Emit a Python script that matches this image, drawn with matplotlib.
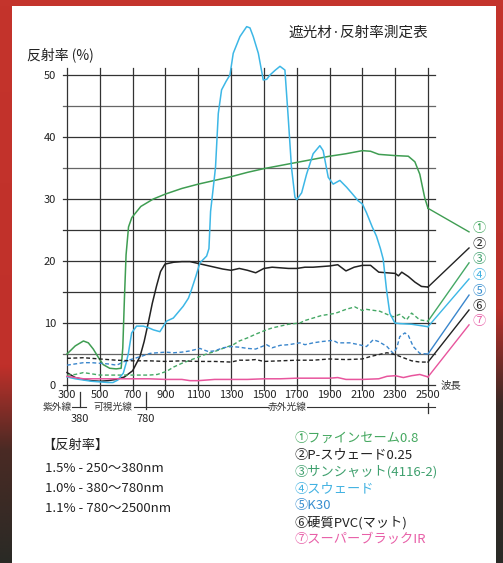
import matplotlib
matplotlib.use('Agg')
import matplotlib.pyplot as plt
from matplotlib.colors import LinearSegmentedColormap
import numpy as np

plt.rcParams['font.family'] = ['Noto Sans CJK JP', 'DejaVu Sans']

W, H = 503, 563

# ① ファインセーム0.8
x1 = [300, 350, 400, 430, 460, 490, 520, 560, 600, 630, 640, 650, 660, 675, 695, 750, 826, 900, 1000, 1100,
      1200, 1300, 1400, 1500, 1600, 1700, 1800, 1900, 2000, 2100, 2150, 2200, 2300, 2380, 2420, 2450, 2480, 2500]
y1 = [5.0, 6.3, 7.1, 6.8, 5.8, 4.5, 3.3, 2.7, 2.6, 2.7, 6.0, 14.0, 21.0, 25.5, 27.0, 28.8, 30.0, 30.8, 31.7, 32.4,
      33.0, 33.6, 34.3, 34.9, 35.4, 35.9, 36.4, 36.9, 37.3, 37.8, 37.7, 37.2, 37.0, 36.9, 36.0, 34.0, 30.2, 28.5]
# ② P-スウェード0.25
x2 = [300, 350, 400, 450, 500, 550, 600, 650, 700, 745, 770, 795, 820, 846, 870, 897, 950, 1000, 1050, 1100,
      1150, 1200, 1250, 1300, 1350, 1400, 1450, 1500, 1550, 1600, 1650, 1700, 1750, 1800, 1850, 1900, 1950,
      2000, 2050, 2100, 2150, 2200, 2250, 2300, 2320, 2340, 2380, 2420, 2460, 2500]
y2 = [2.0, 1.2, 0.9, 0.7, 0.6, 0.7, 0.9, 1.3, 2.3, 4.6, 7.0, 10.0, 13.2, 16.0, 18.3, 19.5, 19.8, 19.9, 19.9, 19.6,
      19.3, 19.0, 18.7, 18.5, 18.8, 18.5, 18.1, 18.8, 19.0, 18.9, 18.8, 18.8, 19.0, 19.0, 19.1, 19.2, 19.4,
      18.4, 19.0, 19.3, 19.3, 18.2, 18.1, 18.0, 17.6, 18.2, 17.5, 16.6, 15.9, 15.8]
# ③ サンシャット(4116-2)
x3 = [300, 350, 400, 450, 500, 600, 700, 800, 850, 907, 950, 1000, 1050, 1110, 1150, 1200, 1250, 1313, 1350,
      1400, 1450, 1516, 1550, 1600, 1650, 1719, 1750, 1800, 1850, 1922, 1950, 2000, 2054, 2100, 2125, 2206,
      2250, 2288, 2328, 2369, 2400, 2450, 2500]
y3 = [1.6, 1.7, 2.0, 1.8, 1.6, 1.6, 1.6, 1.6, 1.7, 2.2, 2.9, 3.5, 4.0, 4.6, 5.0, 5.4, 5.9, 6.5, 7.1,
      7.6, 8.2, 8.9, 9.2, 9.5, 9.8, 10.0, 10.4, 10.8, 11.2, 11.5, 11.7, 12.2, 12.6, 12.0, 12.2, 11.9,
      11.4, 11.0, 11.4, 10.5, 11.6, 10.5, 10.3]
# ④ スウェード
x4 = [300, 350, 400, 450, 500, 550, 580, 610, 630, 643, 660, 674, 694, 724, 765, 800, 826, 866, 907, 948,
      1008, 1040, 1059, 1085, 1110, 1151, 1165, 1175, 1190, 1205, 1222, 1242, 1270, 1293, 1313, 1354, 1395,
      1415, 1435, 1466, 1496, 1517, 1537, 1570, 1598, 1628, 1648, 1668, 1689, 1700, 1730, 1760, 1800, 1841,
      1861, 1892, 1922, 1963, 2004, 2040, 2075, 2100, 2125, 2160, 2186, 2210, 2227, 2247, 2267, 2298, 2330,
      2400, 2450, 2500]
y4 = [1.3, 1.0, 0.8, 0.6, 0.5, 0.4, 0.4, 0.8, 1.5, 1.9, 3.5, 5.1, 8.4, 9.5, 9.5, 9.2, 8.9, 8.6, 10.3, 10.8,
      12.7, 14.0, 15.4, 17.5, 19.7, 20.8, 22.0, 28.0, 31.5, 35.1, 43.8, 47.6, 49.0, 50.0, 53.5, 56.2, 57.8,
      57.6, 56.2, 53.5, 49.2, 49.3, 50.0, 50.8, 51.4, 50.8, 43.2, 35.1, 30.3, 29.9, 31.0, 34.0, 37.3, 38.6,
      37.8, 33.5, 32.4, 33.0, 31.9, 30.8, 29.7, 29.2, 27.8, 25.5, 24.0, 22.0, 20.3, 15.4, 11.6, 10.0, 9.9,
      9.8, 9.6, 9.4]
# ⑤ K30
x5 = [300, 350, 400, 450, 500, 550, 603, 650, 700, 750, 806, 850, 900, 950, 1000, 1050, 1110, 1130, 1160, 1200,
      1250, 1300, 1350, 1400, 1450, 1516, 1550, 1600, 1650, 1719, 1750, 1800, 1850, 1922, 1950, 2024, 2080,
      2125, 2166, 2200, 2250, 2288, 2310, 2328, 2359, 2380, 2410, 2450, 2500]
y5 = [3.2, 3.4, 3.6, 3.6, 3.5, 3.4, 3.2, 3.8, 4.2, 4.6, 5.1, 5.2, 5.3, 5.2, 5.3, 5.5, 5.9, 5.7, 5.4, 5.5,
      6.0, 6.2, 6.1, 5.9, 5.8, 6.5, 6.0, 6.4, 6.5, 6.8, 6.5, 6.8, 7.0, 7.2, 6.8, 6.8, 6.5,
      6.2, 7.3, 7.0, 6.2, 5.1, 6.0, 7.8, 8.4, 8.0, 6.2, 5.1, 5.0]
# ⑥ 硬質PVC(マット)
x6 = [300, 400, 500, 600, 700, 800, 900, 1000, 1100, 1200, 1300, 1350, 1400, 1450, 1500, 1600, 1700, 1800,
      1900, 2000, 2100, 2150, 2200, 2250, 2300, 2350, 2400, 2450, 2500]
y6 = [4.3, 4.4, 4.2, 4.0, 3.9, 3.9, 3.8, 3.9, 3.8, 3.8, 3.7, 4.0, 4.0, 4.1, 3.8, 3.9, 4.0, 4.0,
      4.2, 4.1, 4.2, 4.6, 4.9, 5.2, 4.9, 4.4, 3.9, 3.7, 3.7]
# ⑦ スーパーブラックIR
x7 = [300, 350, 400, 500, 600, 700, 800, 900, 1000, 1050, 1100, 1150, 1200, 1300, 1400, 1500, 1600, 1700,
      1800, 1900, 1950, 2000, 2100, 2200, 2250, 2300, 2350, 2400, 2450, 2500]
y7 = [1.4, 1.2, 1.0, 1.0, 1.0, 1.0, 1.0, 0.9, 0.9, 0.7, 0.7, 0.8, 0.9, 0.9, 0.9, 1.0, 1.0, 1.1,
      1.1, 1.1, 1.2, 0.9, 0.9, 1.0, 1.4, 1.5, 1.2, 1.5, 1.7, 1.3]

names = ['①ファインセーム0.8', '②P-スウェード0.25', '③サンシャット(4116-2)', '④スウェード',
         '⑤K30', '⑥硬質PVC(マット)', '⑦スーパーブラックIR']
marks = ['①', '②', '③', '④', '⑤', '⑥', '⑦']
colors = ['#3f9d52', '#222222', '#45a865', '#3db7e6', '#3a86cc', '#222222', '#e8559d']
styles = ['-', '-', '--', '-', '--', '--', '-']
text_colors = ['#45a860', '#222222', '#3fa06e', '#42b2e2', '#3a8fd0', '#222222', '#e860a8']

notes_title = '【反射率】'
notes = ['1.5% - 250〜380nm', '1.0% - 380〜780nm', '1.1% - 780〜2500nm']

series = [(x1, y1), (x2, y2), (x3, y3), (x4, y4), (x5, y5), (x6, y6), (x7, y7)]


def fx(px):
    return px / W


def fy(py):
    return 1 - py / H


fig = plt.figure(figsize=(W / 100, H / 100), dpi=100)
fig.patch.set_facecolor('white')

# red / dark frame on the sides
grad = np.linspace(0, 1, 256).reshape(-1, 1)
cm_left = LinearSegmentedColormap.from_list('l', [(0, '#c4342c'), (0.65, '#c0302a'), (0.8, '#4a2a24'), (1, '#2a2a26')])
cm_right = LinearSegmentedColormap.from_list('r', [(0, '#c4342c'), (0.55, '#b8302a'), (0.72, '#3a2a26'), (1, '#2a2a26')])
axl = fig.add_axes([0, 0, fx(12), 1])
axl.imshow(grad, aspect='auto', cmap=cm_left)
axl.axis('off')
axr = fig.add_axes([fx(496), 0, fx(7), 1])
axr.imshow(grad, aspect='auto', cmap=cm_right)
axr.axis('off')
axt = fig.add_axes([0, fy(6), 1, fy(0) - fy(6)])
axt.set_facecolor('#c4342c')
axt.set_xticks([])
axt.set_yticks([])
for s in axt.spines.values():
    s.set_visible(False)

ax = fig.add_axes([fx(67), fy(385), fx(428) - fx(67), fy(75) - fy(385)])
ax.set_xlim(300, 2500)
ax.set_ylim(0, 50)
ax.patch.set_alpha(0)
for s in ax.spines.values():
    s.set_visible(False)

gc = '#333333'
for yv in range(0, 51, 5):
    ax.plot([276, 2543], [yv, yv], color=gc if yv % 10 == 0 or yv in (15, 25) else '#666666',
            lw=0.9, clip_on=False, zorder=1)
for xv in range(300, 2501, 200):
    ax.plot([xv, xv], [-0.8, 51.2], color=gc, lw=0.9, clip_on=False, zorder=1)

ax.set_xticks(range(300, 2501, 200))
ax.set_xticklabels([str(v) for v in range(300, 2501, 200)], fontsize=8, color='#222222')
ax.set_yticks(range(0, 51, 10))
ax.set_yticklabels([str(v) for v in range(0, 51, 10)], fontsize=8, color='#222222')
ax.tick_params(axis='x', length=0, pad=3.5)
ax.tick_params(axis='y', length=0, pad=8)

# lines to the numbered markers at the right
label_y = [25.2, 22.6, 20.2, 17.6, 15.0, 12.6, 10.2]
for (xs, ys), c, ls, ly, m, tc in zip(series, colors, styles, label_y, marks, text_colors):
    if ls == '--':
        ax.plot(xs, ys, color=c, lw=1.0, dashes=(2.8, 1.8), clip_on=False, zorder=3)
    else:
        ax.plot(xs, ys, color=c, lw=1.1, clip_on=False, zorder=3)
    ax.plot([xs[-1], 2750], [ys[-1], ly - 0.5], color=c, lw=1.0, clip_on=False, zorder=3)
    ax.text(2810, ly, m, color=tc, fontsize=9.5, ha='center', va='center', clip_on=False)

# wavelength band row
ax.plot([380, 380], [-1.1, -3.6], color='#333333', lw=0.9, clip_on=False)
ax.plot([780, 780], [-1.1, -3.9], color='#333333', lw=0.9, clip_on=False)
ax.plot([2500, 2500], [-2.9, -4.5], color='#333333', lw=0.9, clip_on=False)
ax.plot([330, 416], [-3.55, -3.55], color='#333333', lw=0.8, clip_on=False)
ax.plot([708, 1525], [-3.55, -3.55], color='#333333', lw=0.8, clip_on=False)
ax.plot([1763, 2543], [-3.55, -3.55], color='#333333', lw=0.8, clip_on=False)
ax.text(239, -3.55, '紫外線', fontsize=7, ha='center', va='center', color='#333333')
ax.text(580, -3.55, '可視光線', fontsize=7, ha='center', va='center', color='#333333')
ax.text(1641, -3.55, '赤外光線', fontsize=7, ha='center', va='center', color='#333333')
ax.text(380, -5.5, '380', fontsize=8, ha='center', va='center', color='#222222')
ax.text(780, -5.5, '780', fontsize=8, ha='center', va='center', color='#222222')
ax.text(2575, 0, '波長', fontsize=7.5, ha='left', va='center', color='#333333')

fig.text(fx(358), fy(33), '遮光材·反射率測定表', fontsize=10.5, ha='center', va='center', color='#222222')
fig.text(fx(27), fy(55), '反射率 (%)', fontsize=10, ha='left', va='center', color='#222222')

fig.text(fx(42), fy(445), notes_title, fontsize=9.5, ha='left', va='center', color='#222222')
for i, t in enumerate(notes):
    fig.text(fx(45), fy(469 + 20 * i), t, fontsize=9.5, ha='left', va='center', color='#222222')

for i, (t, c) in enumerate(zip(names, text_colors)):
    fig.text(fx(295), fy(438 + 17 * i), t, fontsize=9.5, ha='left', va='center', color=c)

fig.savefig('out.png', dpi=100)
